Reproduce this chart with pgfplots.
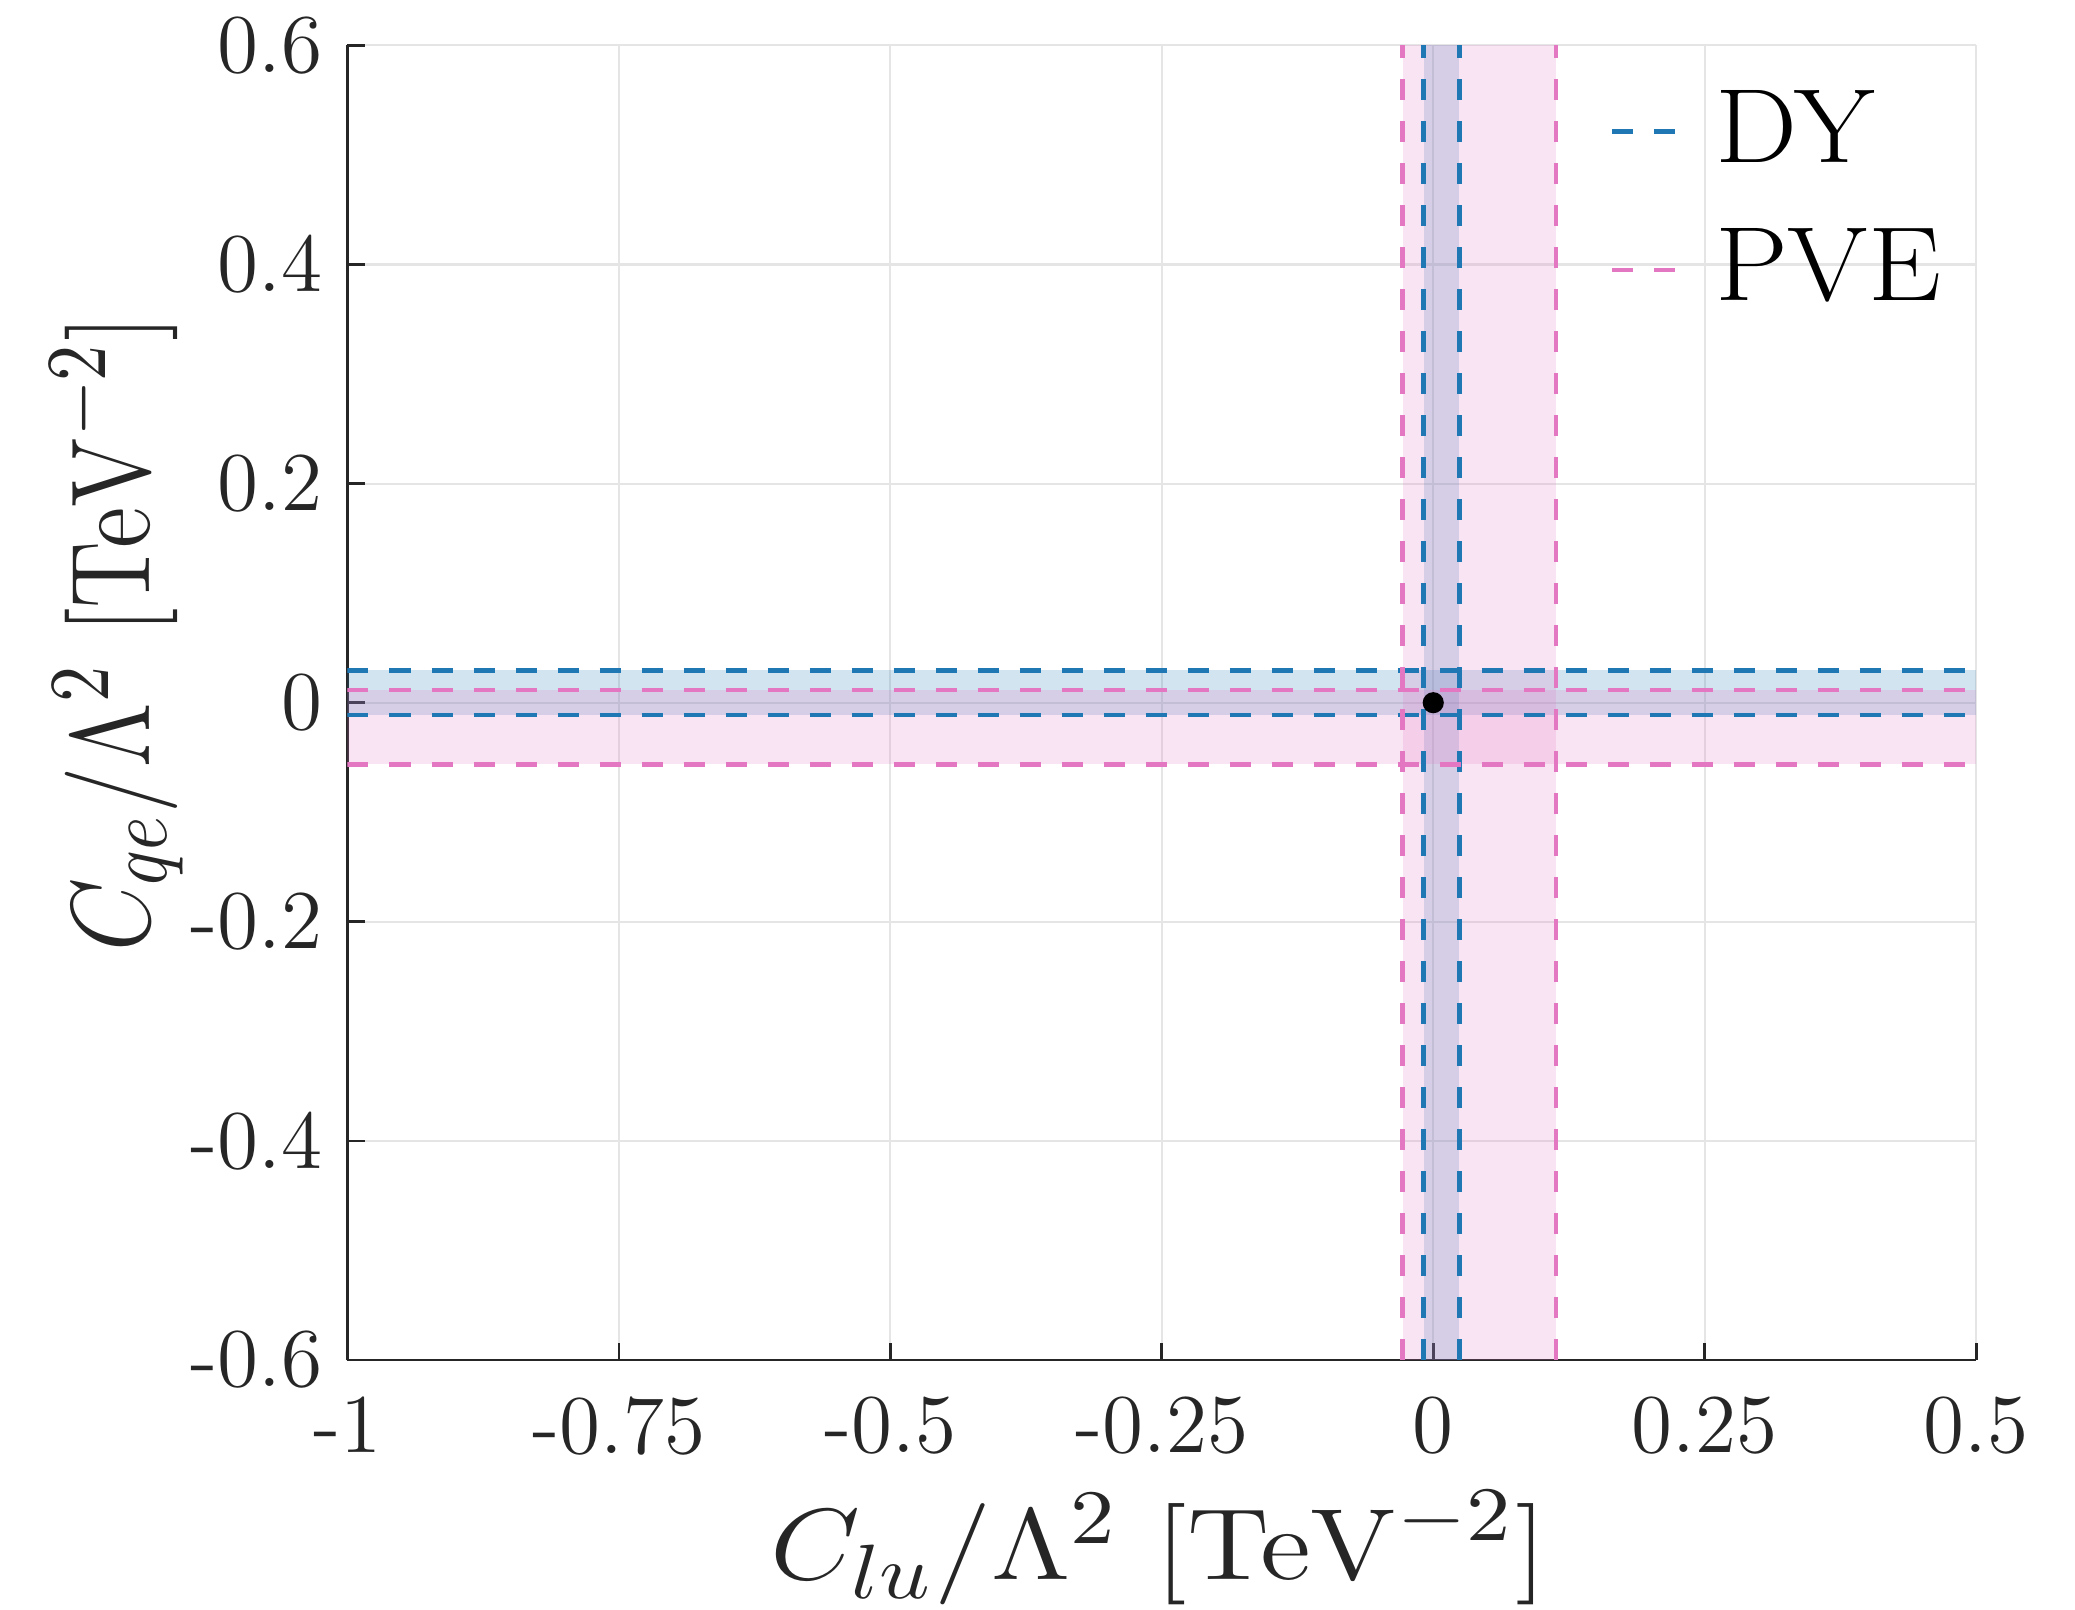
\documentclass[border=0pt]{standalone}
\usepackage{graphicx}
\usepackage{pgfplots}
\pgfplotsset{compat=1.18}
\definecolor{dyblue}{RGB}{31,119,180}
\definecolor{pvepink}{RGB}{227,119,194}
\definecolor{axgray}{RGB}{38,38,38}
\begin{document}
\begin{tikzpicture}
\useasboundingbox (-17.375mm,-12.45mm) rectangle (86.375mm,68.0mm);
\begin{axis}[
  scale only axis,
  width=81.43mm, height=65.73mm,
  xmin=-1, xmax=0.5, ymin=-0.6, ymax=0.6,
  axis x line*=bottom, axis y line*=left,
  axis line style={axgray, line width=0.4pt},
  xtick={-1,-0.75,-0.5,-0.25,0,0.25,0.5},
  xticklabels={-1,-0.75,-0.5,-0.25,0,0.25,0.5},
  ytick={-0.6,-0.4,-0.2,0,0.2,0.4,0.6},
  yticklabels={-0.6,-0.4,-0.2,0,0.2,0.4,0.6},
  tick align=inside, major tick length=0.85mm,
  tick style={axgray, line width=0.4pt},
  grid=major, grid style={gray!20, line width=0.3pt},
  ticklabel style={font=\fontsize{11.9}{14}\selectfont, text=axgray},
  xticklabel style={anchor=north, inner sep=0pt, yshift=-1.75mm},
  yticklabel style={anchor=east, inner sep=0pt, xshift=-1.18mm},
  label style={font=\fontsize{15}{18}\selectfont, text=axgray},
  xlabel={\scalebox{1.15}[1.0]{$C_{lu}/\Lambda^2\ [\mathrm{TeV}^{-2}]$}},
  ylabel={\scalebox{0.935}[1.11]{$C_{qe}/\Lambda^2\ [\mathrm{TeV}^{-2}]$}},
  xlabel style={at={(axis description cs:0.498,-0.143)}, anchor=center},
  ylabel style={at={(axis description cs:-0.1415,0.5525)}, anchor=center},
  legend style={draw=none, fill=none, at={(axis description cs:0.774,0.967)},
    anchor=north west, inner sep=0pt, font=\fontsize{15}{18}\selectfont,
    row sep=2.8mm, column sep=1.85mm, nodes={inner sep=0pt}},
  legend cell align=left,
  legend image code/.code={\draw[#1] (0mm,0mm) -- (3.2mm,0mm);},
  band/.style={draw=none, fill opacity=0.2, forget plot},
  edge/.style={line width=0.66pt, dash pattern=on 1.05mm off 1.05mm},
]
% shaded bands
\addplot[band, fill=dyblue] coordinates {(-1,-0.0112) (0.5,-0.0112) (0.5,0.0295) (-1,0.0295)};
\addplot[band, fill=dyblue] coordinates {(-0.00875,-0.6) (0.024,-0.6) (0.024,0.6) (-0.00875,0.6)};
\addplot[band, fill=pvepink] coordinates {(-1,-0.0563) (0.5,-0.0563) (0.5,0.0116) (-1,0.0116)};
\addplot[band, fill=pvepink] coordinates {(-0.0281,-0.6) (0.1131,-0.6) (0.1131,0.6) (-0.0281,0.6)};
% DY edges
\addplot[edge, dyblue] coordinates {(-1,0.0295) (0.5,0.0295)};
\addlegendentry{\scalebox{1.1}[1.0]{DY}}
\addplot[edge, dyblue, forget plot] coordinates {(-1,-0.0112) (0.5,-0.0112)};
\addplot[edge, dyblue, forget plot] coordinates {(-0.00875,-0.6) (-0.00875,0.6)};
\addplot[edge, dyblue, forget plot] coordinates {(0.024,-0.6) (0.024,0.6)};
% PVE edges
\addplot[edge, pvepink] coordinates {(-1,0.0116) (0.5,0.0116)};
\addlegendentry{\scalebox{1.1}[1.0]{PVE}}
\addplot[edge, pvepink, forget plot] coordinates {(-1,-0.0563) (0.5,-0.0563)};
\addplot[edge, pvepink, forget plot] coordinates {(-0.0281,-0.6) (-0.0281,0.6)};
\addplot[edge, pvepink, forget plot] coordinates {(0.1131,-0.6) (0.1131,0.6)};
% central value
\addplot[only marks, mark=*, mark size=1.3pt, black, forget plot] coordinates {(0,0)};
\end{axis}
\end{tikzpicture}
\end{document}
